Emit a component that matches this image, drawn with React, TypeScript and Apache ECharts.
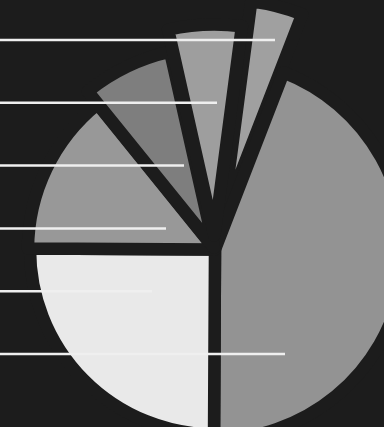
import React, { useEffect, useRef } from "react";
import * as echarts from "echarts";

// Pie slices, clockwise from just right of 12 o'clock
const sliceNames = ["A", "B", "C", "D", "E", "F"];
const sliceValues = [3.8, 44.2, 25, 14.1, 7.3, 5.6];
const sliceColors = ["#a0a0a0", "#939393", "#e9e9e9", "#989898", "#7e7e7e", "#9e9e9e"];
const sliceRadii = [221, 190, 185, 187, 201, 211];
const sliceOffsets = [30, 0, 0, 0, 2, 14];

// White horizontal rules (bar chart on top)
const ruleNames = ["r1", "r2", "r3", "r4", "r5", "r6"];
const ruleValues = [275, 217, 184, 166, 152, 285];

const BG = "#1c1c1c";

export default function App() {
  const ref = useRef<HTMLDivElement>(null);
  useEffect(() => {
    if (!ref.current) return;
    const chart = echarts.init(ref.current, undefined, { renderer: "svg" });
    const pieSeries = sliceValues.map((_, k) => ({
      type: "pie",
      center: [215, 249.5],
      radius: [0, sliceRadii[k]],
      startAngle: 82.5,
      clockwise: true,
      selectedMode: "single",
      selectedOffset: sliceOffsets[k],
      silent: true,
      z: 2,
      label: { show: false },
      labelLine: { show: false },
      emphasis: { disabled: true },
      data: sliceValues.map((v, i) => ({
        name: sliceNames[i],
        value: v,
        selected: i === k && sliceOffsets[k] > 0,
        itemStyle:
          i === k
            ? { color: sliceColors[i], borderColor: BG, borderWidth: 12.5 }
            : { color: "rgba(0,0,0,0)", borderWidth: 0 },
      })),
    }));
    chart.setOption({
      animation: false,
      backgroundColor: BG,
      grid: { left: 0, right: 0, top: 8.6, bottom: 41.6 },
      xAxis: { type: "value", min: 0, max: 384, show: false },
      yAxis: { type: "category", data: ruleNames, inverse: true, show: false },
      series: [
        ...pieSeries,
        {
          type: "bar",
          data: ruleValues,
          barWidth: 2.5,
          z: 10,
          silent: true,
          itemStyle: { color: "#efefef" },
        },
      ],
    });
    return () => chart.dispose();
  }, []);
  return (
    <div
      ref={ref}
      style={{ position: "fixed", left: 0, top: 0, width: 384, height: 427 }}
    />
  );
}
